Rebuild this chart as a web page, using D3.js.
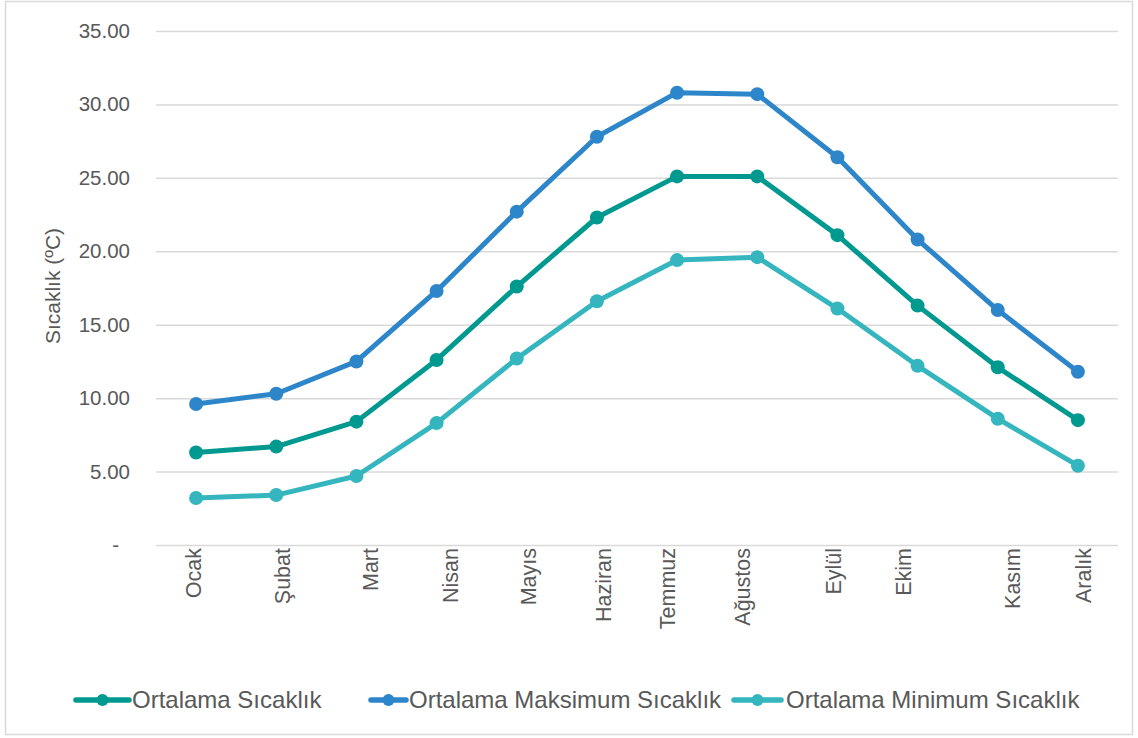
<!DOCTYPE html>
<html><head><meta charset="utf-8">
<script src="https://cdn.jsdelivr.net/npm/d3@7"></script>
<style>body{margin:0;background:#fff;font-family:"Liberation Sans",Arial,sans-serif}</style>
</head><body><svg id="c" width="1138" height="738"></svg>
<script>
const months = ["Ocak","Şubat","Mart","Nisan","Mayıs","Haziran","Temmuz","Ağustos","Eylül","Ekim","Kasım","Aralık"];
const avgTemp = [6.3,6.7,8.4,12.6,17.6,22.3,25.1,25.1,21.1,16.3,12.1,8.5];
const maxTemp = [9.6,10.3,12.5,17.3,22.7,27.8,30.8,30.7,26.4,20.8,16.0,11.8];
const minTemp = [3.2,3.4,4.7,8.3,12.7,16.6,19.4,19.6,16.1,12.2,8.6,5.4];
const yTicks = [0,5,10,15,20,25,30,35];
const seriesNames = ["Ortalama Sıcaklık","Ortalama Maksimum Sıcaklık","Ortalama Minimum Sıcaklık"];
const seriesColors = ["#009990","#2E86CA","#35B6BE"];
const yTitle = "Sıcaklık (ºC)";
// small horizontal nudges of the month labels, as in the source rendering
const labelNudge = [-3,6,14,14,12,7,-10,-15,-4,-14,15,6];

const series = [avgTemp, maxTemp, minTemp].map((v,i)=>({name:seriesNames[i], color:seriesColors[i], values:v}));
const svg = d3.select("#c");
svg.append("rect").attr("x",5.5).attr("y",1.5).attr("width",1127).attr("height",733)
  .attr("fill","#fff").attr("stroke","#d9d9d9").attr("stroke-width",1.5);

const L=156, R=1118, T=31, B=545;
const x = d3.scaleBand().domain(months).range([L,R]);
const y = d3.scaleLinear().domain([0,35]).range([B,T]);

const yAxis = svg.append("g").attr("transform",`translate(${L},0)`)
  .call(d3.axisLeft(y).tickValues(yTicks).tickSize(-(R-L)).tickPadding(26)
    .tickFormat(d=> d===0 ? "-" : d.toFixed(2)));
yAxis.select(".domain").remove();
yAxis.selectAll("line").attr("stroke","#d9d9d9").attr("stroke-width",1.5);
yAxis.selectAll("text").attr("fill","#595959").style("font-size","20.5px").style("font-family","Liberation Sans, Arial");
yAxis.selectAll(".tick").filter(d=>d===0).select("text").attr("dx",-11);

const xAxis = svg.append("g").attr("transform",`translate(0,${B})`)
  .call(d3.axisBottom(x).tickSize(0).tickPadding(0));
xAxis.select(".domain").remove();
xAxis.selectAll("text").attr("fill","#595959").style("font-size","21.5px").style("font-family","Liberation Sans, Arial")
  .attr("transform","rotate(-90)").attr("text-anchor","end").attr("x",-3).attr("y",(d,i)=>labelNudge[i]).attr("dy","0.35em");

svg.append("text").attr("transform","translate(53,286) rotate(-90)").attr("text-anchor","middle")
  .attr("dy","0.35em").attr("fill","#595959").style("font-size","21px").text(yTitle);

const line = d3.line().x((d,i)=>x(months[i])+x.bandwidth()/2).y(d=>y(d));
const g = svg.append("g");
series.forEach(s=>{
  g.append("path").attr("d",line(s.values)).attr("fill","none").attr("stroke",s.color)
    .attr("stroke-width",5).attr("stroke-linejoin","round");
  g.selectAll(null).data(s.values).enter().append("circle")
    .attr("cx",(d,i)=>x(months[i])+x.bandwidth()/2).attr("cy",d=>y(d)).attr("r",7).attr("fill",s.color);
});

// legend layout: [line start, line end, text start]
const legLayout = [[76,129,132],[371,406,409],[734,781,786]];
const lg = svg.append("g").attr("transform","translate(0,700)");
series.forEach((s,i)=>{
  const [a,b,t] = legLayout[i];
  lg.append("line").attr("x1",a).attr("x2",b).attr("stroke",s.color).attr("stroke-width",5.5).attr("stroke-linecap","round");
  lg.append("circle").attr("cx",(a+b)/2).attr("r",6).attr("fill",s.color);
  lg.append("text").attr("x",t).attr("dy","0.35em").attr("fill","#595959").style("font-size","24px").text(s.name);
});
</script></body></html>
